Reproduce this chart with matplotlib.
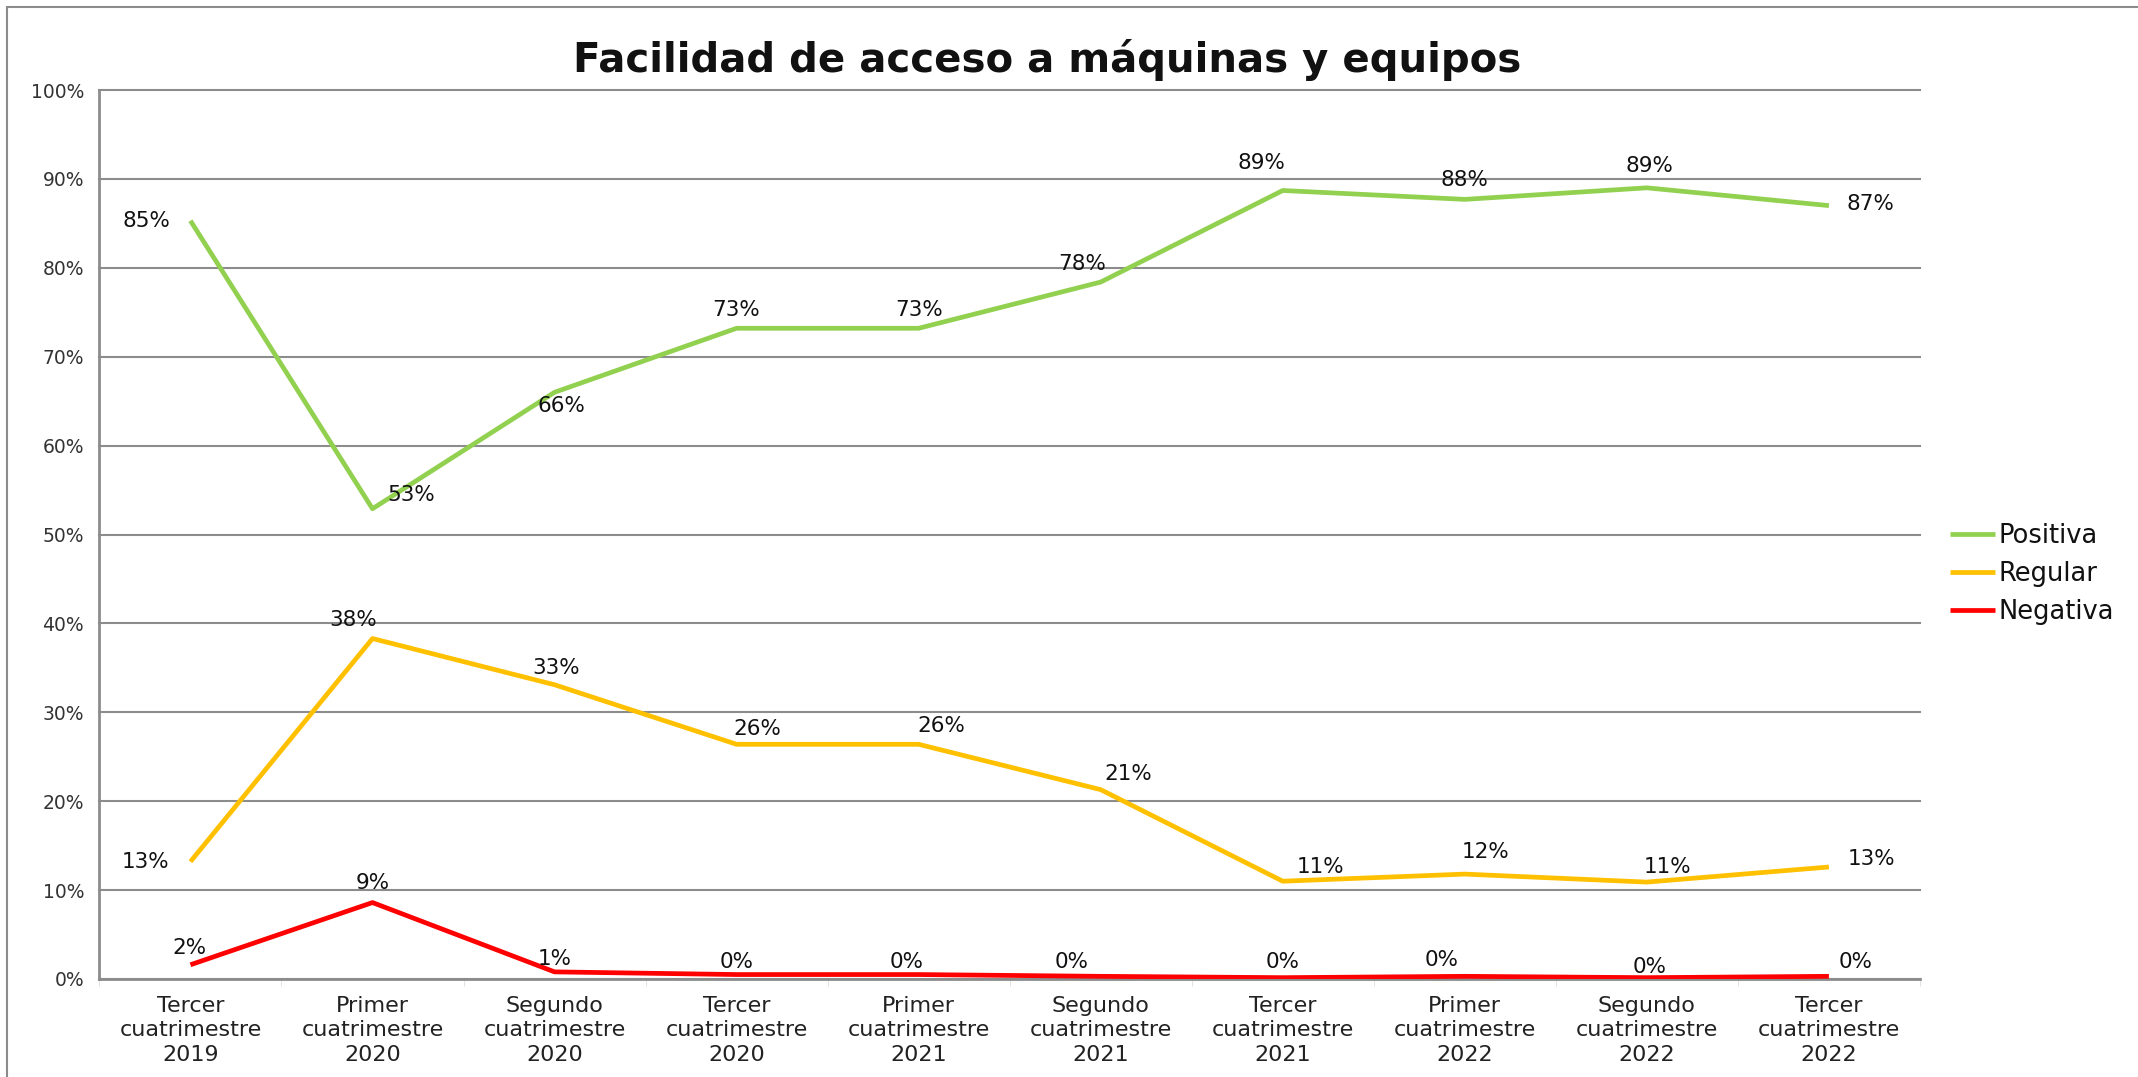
import matplotlib
matplotlib.use("Agg")
import matplotlib.pyplot as plt
from matplotlib.patches import Rectangle
from matplotlib.ticker import PercentFormatter, FixedLocator

categories = ["Tercer\ncuatrimestre\n2019", "Primer\ncuatrimestre\n2020", "Segundo\ncuatrimestre\n2020",
              "Tercer\ncuatrimestre\n2020", "Primer\ncuatrimestre\n2021", "Segundo\ncuatrimestre\n2021",
              "Tercer\ncuatrimestre\n2021", "Primer\ncuatrimestre\n2022", "Segundo\ncuatrimestre\n2022",
              "Tercer\ncuatrimestre\n2022"]
positiva = [0.853, 0.529, 0.660, 0.732, 0.732, 0.784, 0.887, 0.877, 0.890, 0.870]
regular = [0.132, 0.383, 0.331, 0.264, 0.264, 0.213, 0.110, 0.118, 0.109, 0.126]
negativa = [0.016, 0.086, 0.008, 0.005, 0.005, 0.003, 0.0015, 0.003, 0.0015, 0.003]
series_names = ["Positiva", "Regular", "Negativa"]
colors = ["#92D050", "#FFC000", "#FF0000"]

# label offsets (points)
off_pos = [(-32, 0), (28, 10), (5, -10), (0, 13), (0, 13), (-13, 13), (-15, 20), (0, 14), (2, 16), (30, 1)]
off_reg = [(-32, 0), (-14, 13), (1, 12), (15, 11), (16, 13), (20, 11), (27, 10), (15, 16), (15, 11), (31, 6)]
off_neg = [(-1, 12), (0, 14), (0, 9), (0, 9), (-9, 9), (-21, 10), (0, 11), (-17, 12), (2, 8), (19, 10)]

plt.rcParams['font.family'] = ['DejaVu Sans']
fig = plt.figure(figsize=(21.38, 10.77), dpi=100)
ax = fig.add_axes([0.0465, 0.091, 0.898 - 0.0465, 0.9164 - 0.091])

x = list(range(len(categories)))
for vals, name, c, offs in zip([positiva, regular, negativa], series_names, colors, [off_pos, off_reg, off_neg]):
    ax.plot(x, vals, color=c, lw=3.4, label=name, solid_capstyle='butt', zorder=3)
    for xi, v, o in zip(x, vals, offs):
        ax.annotate(f"{round(v*100):.0f}%", (xi, v), xytext=o, textcoords='offset points',
                    ha='center', va='center', fontsize=15.5, color='#111111', zorder=4)

ax.set_xlim(-0.5, len(categories) - 0.5)
ax.set_ylim(0, 1)
ax.yaxis.set_major_locator(FixedLocator([i / 10 for i in range(11)]))
ax.yaxis.set_major_formatter(PercentFormatter(1.0, decimals=0))
ax.set_xticks(x)
ax.set_xticklabels(categories, fontsize=16, color='#222222', linespacing=1.3)
ax.set_xticks([i + 0.5 for i in range(-1, len(categories))], minor=True)
ax.tick_params(axis='x', which='major', length=0, pad=12)
ax.tick_params(axis='x', which='minor', length=5, color='#dddddd')
ax.tick_params(axis='y', length=0, pad=11, labelsize=13.5, labelcolor='#333333')
ax.grid(axis='y', color='#8c8c8c', lw=1.5, zorder=1)
for gl in ax.get_ygridlines():
    gl.set_clip_on(False)
ax.set_axisbelow(True)
for s in ['top', 'right']:
    ax.spines[s].set_visible(False)
for s in ['left', 'bottom']:
    ax.spines[s].set_color('#8c8c8c')
    ax.spines[s].set_linewidth(2)

fig.text(1047 / 2138, 1 - 60 / 1077, "Facilidad de acceso a máquinas y equipos", ha='center', va='center',
         fontsize=29, fontweight='bold', color='#111111')

leg = ax.legend(loc='center left', bbox_to_anchor=(1950 / 2138, 1 - 574 / 1077), bbox_transform=fig.transFigure,
                frameon=False, fontsize=18.5, handlelength=1.75, handletextpad=0.15, labelspacing=0.45,
                borderaxespad=0, borderpad=0)
for t in leg.get_texts():
    t.set_color('#111111')

fig.patches.append(Rectangle((7 / 2138, -0.1), 1.2, 1.1 - 7 / 1077, transform=fig.transFigure,
                             fill=False, edgecolor='#8c8c8c', lw=1.5))

fig.savefig("out.png", dpi=100, facecolor='white')
